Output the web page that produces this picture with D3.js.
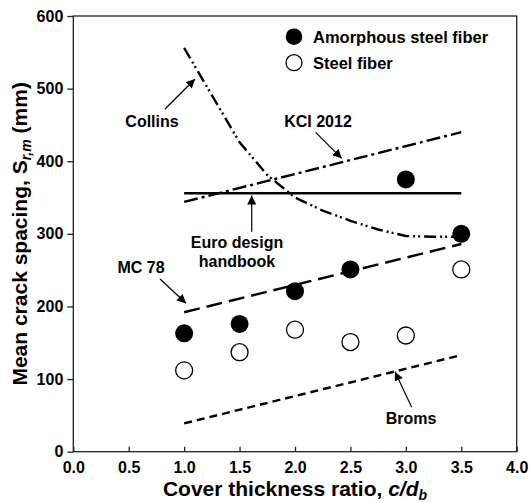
<!DOCTYPE html>
<html><head><meta charset="utf-8">
<script src="https://cdn.jsdelivr.net/npm/d3@7"></script>
<style>
body{margin:0;background:#fff;}
text{font-family:"Liberation Sans",Arial,sans-serif;font-weight:bold;fill:#000;}
</style></head>
<body><svg id="c" width="531" height="503"></svg>
<script>
const xTicks = [0.0,0.5,1.0,1.5,2.0,2.5,3.0,3.5,4.0];
const yTicks = [0,100,200,300,400,500,600];
const cover = [1.0,1.5,2.0,2.5,3.0,3.5];
const amorphous = [163,176,221,251,375,300];
const steel = [112,137,168,151,160,251];
const mc78X = [1.0,3.5], mc78Y = [192,286];
const bromsX = [1.0,3.5], bromsY = [39,133];
const kciX = [1.0,3.5], kciY = [344,440];
const euroX = [1.0,3.5], euroY = [356,356];
const collinsX = [1.0,1.5,1.75,2.0,2.25,2.5,2.75,3.0,3.25,3.5];
const collinsY = [556,426,381,350,332,318,306,297,296,296];

const svg = d3.select('#c');
const L=73.3,R=516.7,T=16,B=451.7;
const x = d3.scaleLinear().domain([0,4]).range([L,R]);
const y = d3.scaleLinear().domain([0,600]).range([B,T]);

svg.append('defs').append('marker').attr('id','ah').attr('viewBox','0 0 10 10')
  .attr('refX',10).attr('refY',5).attr('markerWidth',9).attr('markerHeight',9)
  .attr('markerUnits','userSpaceOnUse').attr('orient','auto')
  .append('path').attr('d','M0,0L10,5L0,10z').attr('fill','#000');

// frame
svg.append('rect').attr('x',L).attr('y',T).attr('width',R-L).attr('height',B-T)
  .attr('fill','none').attr('stroke','#222').attr('stroke-width',1.3);

// axes
const xa = svg.append('g').attr('transform',`translate(0,${B})`)
  .call(d3.axisBottom(x).tickValues(xTicks).tickFormat(d3.format('.1f')).tickSizeInner(-5).tickSizeOuter(0).tickPadding(10));
xa.select('.domain').remove();
xa.selectAll('line').attr('stroke','#222').attr('stroke-width',1.3);
xa.selectAll('text').attr('font-size',16).attr('font-weight','bold').attr('font-family','Liberation Sans, Arial');

const ya = svg.append('g').attr('transform',`translate(${L},0)`)
  .call(d3.axisLeft(y).tickValues(yTicks).tickFormat(d3.format('d')).tickSizeInner(6).tickSizeOuter(0).tickPadding(4));
ya.select('.domain').remove();
ya.selectAll('line').attr('stroke','#222').attr('stroke-width',1.3);
ya.selectAll('text').attr('font-size',16).attr('font-weight','bold').attr('font-family','Liberation Sans, Arial');

// lines
const line = d3.line().x(d=>x(d[0])).y(d=>y(d[1]));
function draw(xs,ys,dash){
  svg.append('path').attr('d',line(xs.map((v,i)=>[v,ys[i]])))
    .attr('fill','none').attr('stroke','#000').attr('stroke-width',2.4)
    .attr('stroke-dasharray',dash);
}
draw(euroX,euroY,null);
draw(kciX,kciY,'14,4,3,4');
draw(collinsX,collinsY,'12,4,2,3,2,4');
draw(mc78X,mc78Y,'16,7');
draw(bromsX,bromsY,'8,5');

// points
svg.append('g').selectAll('circle').data(cover).join('circle')
  .attr('cx',d=>x(d)).attr('cy',(d,i)=>y(steel[i])).attr('r',8.5)
  .attr('fill','#fff').attr('stroke','#000').attr('stroke-width',1.3);
svg.append('g').selectAll('circle').data(cover).join('circle')
  .attr('cx',d=>x(d)).attr('cy',(d,i)=>y(amorphous[i])).attr('r',9)
  .attr('fill','#000');

// legend
svg.append('circle').attr('cx',294).attr('cy',36.7).attr('r',8.3).attr('fill','#000');
svg.append('circle').attr('cx',294).attr('cy',62.7).attr('r',8).attr('fill','#fff').attr('stroke','#000').attr('stroke-width',1.3);
svg.append('text').attr('x',313).attr('y',42.5).attr('font-size',16.5).text('Amorphous steel fiber');
svg.append('text').attr('x',313).attr('y',68.5).attr('font-size',16.5).text('Steel fiber');

// annotations
function note(tx,ty,lines,x1,y1,x2,y2){
  const t = svg.append('text').attr('x',tx).attr('y',ty).attr('text-anchor','middle').attr('font-size',16);
  lines.forEach((s,i)=>t.append('tspan').attr('x',tx).attr('dy',i?19:0).text(s));
  svg.append('line').attr('x1',x1).attr('y1',y1).attr('x2',x2).attr('y2',y2)
    .attr('stroke','#000').attr('stroke-width',1.2).attr('marker-end','url(#ah)');
}
note(152,126.5,['Collins'],165,109,195,79);
note(318,126.5,['KCI 2012'],315.7,132.3,341.7,158.3);
note(237,248.3,['Euro design','handbook'],251.7,231.7,251.7,195.5);
note(141,273.3,['MC 78'],160,279,186,303.3);
note(411,424,['Broms'],411.7,407.3,395,371.7);

// axis titles
const xt = svg.append('text').attr('x',(L+R)/2).attr('y',496).attr('text-anchor','middle').attr('font-size',21);
xt.append('tspan').text('Cover thickness ratio, ');
xt.append('tspan').attr('font-style','italic').text('c/d');
xt.append('tspan').attr('font-style','italic').attr('font-size',14).attr('dy',4).text('b');

const yt = svg.append('text').attr('transform',`translate(27,${(T+B)/2}) rotate(-90)`).attr('text-anchor','middle').attr('font-size',21);
yt.append('tspan').text('Mean crack spacing, S');
yt.append('tspan').attr('font-style','italic').attr('font-size',14).attr('dy',4).text('r,m');
yt.append('tspan').attr('dy',-4).text(' (mm)');
</script></body></html>
